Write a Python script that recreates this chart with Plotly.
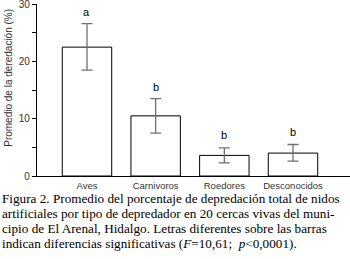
import plotly.graph_objects as go

categories = ["Aves", "Carnivoros", "Roedores", "Desconocidos"]
means = [22.5, 10.5, 3.6, 4.0]
err_plus = [4.1, 3.0, 1.3, 1.5]
err_minus = [4.0, 3.0, 1.3, 1.4]
letters = ["a", "b", "b", "b"]
letter_y = [28.6, 15.6, 7.2, 7.7]
yticks = [0, 10, 20, 30]
caption = [
    "Figura 2. Promedio del porcentaje de depredación total de nidos",
    "artificiales por tipo de depredador en 20 cercas vivas del muni-",
    "cipio de El Arenal, Hidalgo. Letras diferentes sobre las barras",
    "indican diferencias significativas (<i>F</i>=10,61;  <i>p</i><0,0001).",
]

W, H = 350, 259
ml, mr, mt, mb = 37, 0, 4, 82.5
PW = W - ml - mr
PH = H - mt - mb

fig = go.Figure()
fig.add_trace(go.Bar(
    x=list(range(len(categories))), y=means, width=0.72,
    marker=dict(color="white", line=dict(color="black", width=1)),
    error_y=dict(type="data", symmetric=False, array=err_plus, arrayminus=err_minus,
                 color="#707070", thickness=1.3, width=5.5),
))

for i, (l, ly) in enumerate(zip(letters, letter_y)):
    fig.add_annotation(x=i, y=ly, text=l, showarrow=False, xref="x", yref="y",
                       font=dict(family="Liberation Sans, Arial", size=11, color="black"))

fig.add_annotation(x=(9 - ml) / PW, xref="paper", y=1 - (78 - mt) / PH, yref="paper",
                   text="Promedio de la deredación (%)",
                   showarrow=False, textangle=-90, xanchor="center", yanchor="middle",
                   font=dict(family="Liberation Sans, Arial", size=10, color="#333"))

line_y0 = 199
for k, line in enumerate(caption):
    ypx = line_y0 + 15 * k
    fig.add_annotation(x=-ml / PW, xref="paper", y=1 - (ypx - mt) / PH, yref="paper",
                       text=line, showarrow=False, xanchor="left", yanchor="middle",
                       font=dict(family="Liberation Serif, Times New Roman", size=13.2, color="black"))

fig.update_xaxes(range=[-0.728, 3.83], tickvals=list(range(len(categories))), ticktext=categories,
                 showline=True, linecolor="black", linewidth=1.2, ticks="", showgrid=False,
                 zeroline=False, automargin=False,
                 tickfont=dict(family="Liberation Sans, Arial", size=9.5, color="#333"))
fig.update_yaxes(range=[0, 30.03], tickvals=yticks, showline=True, linecolor="black", linewidth=1.2,
                 ticks="outside", ticklen=4, tickcolor="black", showgrid=False, zeroline=False,
                 automargin=False, ticklabeloverflow="allow",
                 minor=dict(tickvals=[5, 15, 25], ticks="outside", ticklen=4, tickcolor="black"),
                 tickfont=dict(family="Liberation Sans, Arial", size=10, color="#333"))

fig.update_layout(width=W, height=H, margin=dict(l=ml, r=mr, t=mt, b=mb, pad=0),
                  plot_bgcolor="white", paper_bgcolor="white", showlegend=False)

fig.write_html("out.html", config={"displayModeBar": False},
               post_script="document.body.style.margin='0';document.body.style.overflow='hidden';")
